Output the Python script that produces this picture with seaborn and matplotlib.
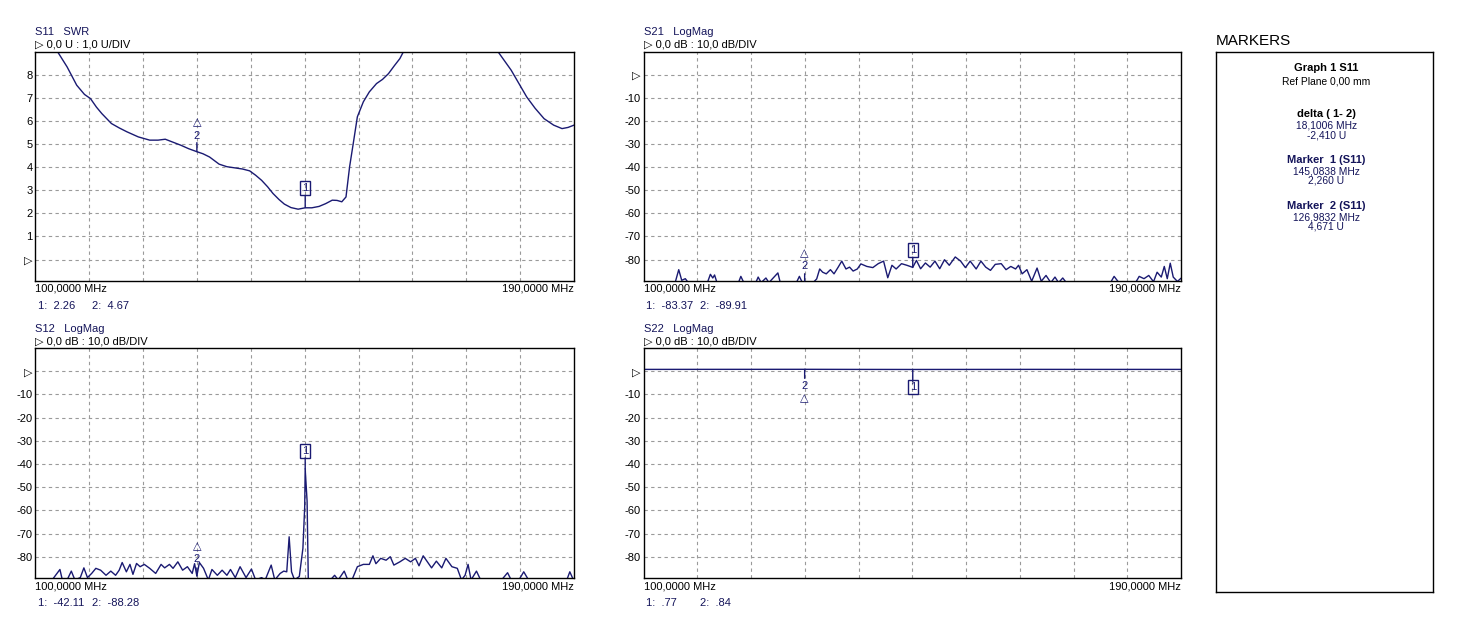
import matplotlib
matplotlib.use("Agg")
import matplotlib.pyplot as plt
import numpy as np
import pandas as pd
import seaborn as sns

# ---------------- data ----------------
s11_freq = [100, 101.5, 103.0, 103.7, 105.3, 106.9, 108.2, 109.2, 110.2, 111.1, 112.7, 114.0,
            115.3, 117.2, 119.1, 120.5, 121.7, 123.0, 124.3, 125.6, 126.98, 128.0, 129.1, 130.7,
            132.0, 133.3, 134.6, 135.8, 136.8, 137.8, 138.8, 139.7, 140.7, 141.6, 142.7, 143.9,
            145.08, 146.2, 147.4, 148.5, 149.6, 150.4, 151.2, 151.9, 152.5, 153.2, 153.8, 154.8,
            155.8, 157.0, 158.0, 159.0, 160.0, 160.9, 161.5, 163.5, 166.0, 169.0, 172.0, 175.0,
            177.3, 178.4, 179.5, 180.8, 182.1, 183.5, 185.0, 186.6, 188.0, 189.0, 190.0]
s11_swr = [10.5, 9.9, 9.3, 9.0, 8.34, 7.55, 7.15, 6.97, 6.6, 6.32, 5.89, 5.7,
           5.53, 5.31, 5.17, 5.17, 5.21, 5.08, 4.95, 4.80, 4.67, 4.58, 4.44, 4.13,
           4.02, 3.97, 3.92, 3.84, 3.65, 3.43, 3.15, 2.86, 2.60, 2.40, 2.25, 2.18,
           2.24, 2.24, 2.30, 2.42, 2.57, 2.56, 2.50, 2.71, 4.01, 5.17, 6.18, 6.83,
           7.26, 7.62, 7.8, 8.05, 8.4, 8.70, 9.0, 9.8, 10.5, 11.0, 10.8, 10.0,
           9.0, 8.6, 8.20, 7.62, 7.04, 6.55, 6.10, 5.82, 5.67, 5.72, 5.82]

s21_freq = [100.0, 105.3, 105.9, 106.4, 107.0, 107.5, 110.7, 111.2, 111.6, 111.9, 112.3, 115.9,
            116.3, 116.8, 118.8, 119.2, 119.7, 120.5, 121.0, 122.5, 122.9, 125.6, 126.1, 126.6,
            126.98, 128.4, 129.0, 129.5, 130.0, 130.6, 131.3, 131.9, 132.6, 133.2, 133.9, 134.5,
            135.1, 135.8, 136.4, 137.4, 138.4, 139.3, 140.2, 140.9, 141.6, 142.3, 143.2, 144.1,
            145.08, 145.7, 146.4, 147.2, 148.0, 148.8, 149.6, 150.4, 151.2, 152.2, 153.1, 153.9,
            154.7, 155.7, 156.5, 157.3, 158.1, 158.9, 159.9, 160.7, 161.5, 162.3, 162.8, 163.4,
            164.2, 165.0, 165.9, 166.6, 167.4, 168.2, 168.9, 169.5, 170.2, 170.8, 178.2, 178.8,
            179.6, 182.4, 183.0, 183.8, 184.6, 185.4, 186.0, 186.7, 187.2, 187.7, 188.2, 188.7,
            189.4, 190.0]
s21_db = [-90, -90, -84.4, -89, -88.3, -90, -90, -86.4, -88, -86.7, -90, -90,
          -87.3, -90, -90, -87.6, -90, -88, -90, -85.8, -90, -90, -87.3, -90,
          -90, -90, -88.4, -84.1, -85.5, -86.2, -84.4, -86.2, -83.3, -80.7, -84.1, -83.3,
          -85.0, -84.1, -81.9, -83.0, -83.5, -81.8, -80.7, -87.9, -82.5, -84.1, -81.8, -82.5,
          -83.4, -80.4, -84.0, -81.5, -83.3, -80.7, -84.0, -80.1, -82.5, -78.9, -80.7, -83.5,
          -80.7, -84.1, -80.7, -83.3, -84.7, -82.1, -81.8, -84.4, -83.0, -84.1, -82.5, -86.2,
          -84.4, -89.4, -83.7, -89.4, -86.9, -90, -87.6, -90, -88, -90, -90, -87.3,
          -90, -90, -87.3, -88.3, -86.9, -89.6, -85.5, -87.6, -83.0, -88.3, -81.6, -87.6,
          -89.5, -88.1]

s12_freq = [100.0, 102.8, 103.4, 104.1, 104.5, 105.3, 106.0, 106.6, 107.5, 108.1, 108.7, 109.4,
            110.1, 110.9, 111.8, 112.6, 113.4, 114.0, 114.5, 115.2, 115.8, 116.3, 116.9, 117.5,
            118.2, 119.1, 120.1, 121.0, 121.6, 122.4, 123.0, 123.8, 124.6, 125.4, 126.2, 126.6,
            126.98, 127.4, 128.1, 128.9, 129.5, 130.4, 131.2, 132.0, 132.6, 133.4, 134.2, 135.2,
            136.1, 136.8, 137.8, 138.4, 139.4, 140.0, 140.9, 141.5, 142.0, 142.4, 142.8, 143.3,
            144.1, 144.7, 145.0, 145.08, 145.4, 145.6, 149.3, 150.0, 150.6, 151.6, 152.2, 152.9,
            153.8, 154.8, 155.8, 156.4, 156.9, 157.7, 158.6, 159.3, 159.9, 160.9, 161.8, 162.7,
            163.5, 164.1, 164.8, 165.5, 166.2, 167.0, 167.9, 168.6, 169.6, 170.5, 171.2, 171.8,
            172.3, 172.8, 173.7, 174.4, 177.9, 178.9, 179.5, 180.8, 181.6, 182.4, 188.8, 189.3,
            189.9, 190.0]
s12_db = [-90, -90, -87.9, -85.5, -90, -90, -86.2, -90, -89.0, -84.8, -89.0, -87.2,
          -85.0, -85.8, -88.0, -86.2, -88.0, -85.8, -82.5, -86.5, -83.3, -87.6, -82.9, -84.3,
          -83.3, -85.0, -87.2, -83.3, -84.8, -83.3, -85.0, -82.2, -85.8, -84.3, -87.2, -83.0,
          -88.3, -82.5, -85.0, -90, -85.5, -88.0, -85.8, -88.0, -85.5, -89.0, -84.3, -89.0,
          -85.3, -90, -89.0, -90, -83.6, -90, -87.2, -86.2, -86.5, -71.4, -86.5, -90,
          -88.5, -76.4, -58.5, -42.11, -56.0, -90, -90, -88.0, -90, -86.2, -90, -90,
          -84.3, -83.3, -83.3, -79.6, -83.0, -80.7, -81.5, -80.0, -83.6, -82.2, -80.7, -82.2,
          -80.7, -83.9, -79.6, -82.2, -84.8, -81.9, -84.8, -80.7, -84.3, -85.0, -90, -88.0,
          -83.3, -90, -86.2, -90, -90, -86.9, -90, -90, -86.5, -90, -90, -86.5,
          -90, -90]

s22_freq = [100.0, 110.0, 120.0, 126.98, 135.0, 145.08, 155.0, 165.0, 175.0, 190.0]
s22_db = [0.80, 0.82, 0.83, 0.84, 0.80, 0.77, 0.79, 0.81, 0.80, 0.80]

panel_titles = ["S11   SWR", "S21   LogMag", "S12   LogMag", "S22   LogMag"]
panel_scales = ["\u25B7 0,0 U : 1,0 U/DIV", "\u25B7 0,0 dB : 10,0 dB/DIV",
                "\u25B7 0,0 dB : 10,0 dB/DIV", "\u25B7 0,0 dB : 10,0 dB/DIV"]
start_label = "100,0000 MHz"
stop_label = "190,0000 MHz"
readouts = [("1:  2.26", "2:  4.67"), ("1:  -83.37", "2:  -89.91"),
            ("1:  -42.11", "2:  -88.28"), ("1:  .77", "2:  .84")]
# marker (freq, value) per panel: marker 1, marker 2
markers = [((145.0838, 2.26), (126.9832, 4.671)),
           ((145.0838, -83.37), (126.9832, -89.91)),
           ((145.0838, -42.11), (126.9832, -88.28)),
           ((145.0838, 0.77), (126.9832, 0.84))]
swr_ticks = [0, 1, 2, 3, 4, 5, 6, 7, 8]
swr_ticklabels = ["\u25B7", "1", "2", "3", "4", "5", "6", "7", "8"]
db_ticks = [0, -10, -20, -30, -40, -50, -60, -70, -80]
db_ticklabels = ["\u25B7", "-10", "-20", "-30", "-40", "-50", "-60", "-70", "-80"]

marker_panel_title = "MARKERS"
marker_lines = [
    ("Graph 1 S11", "bold", "black"),
    ("Ref Plane 0,00 mm", "normal", "black"),
    ("delta ( 1- 2)", "bold", "black"),
    ("18,1006 MHz", "normal", "navy"),
    ("-2,410 U", "normal", "navy"),
    ("Marker  1 (S11)", "bold", "navy"),
    ("145,0838 MHz", "normal", "navy"),
    ("2,260 U", "normal", "navy"),
    ("Marker  2 (S11)", "bold", "navy"),
    ("126,9832 MHz", "normal", "navy"),
    ("4,671 U", "normal", "navy"),
]

# ---------------- style ----------------
sns.set_theme(style="white")
FAM = ["Liberation Sans", "DejaVu Sans"]
plt.rcParams["font.family"] = FAM
TRACE = "#1a1a72"
NAVY = "#14145a"
GRID = "#9a9a9a"

W, H = 1464, 620
fig = plt.figure(figsize=(W / 100, H / 100), dpi=100)
fig.patch.set_facecolor("white")


def px(x, y):
    return x / W, 1 - y / H


boxes = [(35.4, 51.7, 574.0, 281.0), (643.5, 51.7, 1181.0, 281.0),
         (35.4, 348.3, 574.0, 578.3), (643.5, 348.3, 1181.0, 578.3)]
series = [(s11_freq, s11_swr), (s21_freq, s21_db), (s12_freq, s12_db), (s22_freq, s22_db)]


def draw_marker(ax, f, v, num, kind, side, stub, off1, off2=None):
    ylo = ax.get_ylim()[0]
    v = max(v, ylo + 0.001 * (ax.get_ylim()[1] - ylo))
    ax.annotate("", xy=(f, v), xytext=(0, side * stub), textcoords="offset pixels",
                arrowprops=dict(arrowstyle="-", color=TRACE, lw=1.0, shrinkA=0, shrinkB=0),
                annotation_clip=False)
    if kind == "box":
        ax.annotate(num, xy=(f, v), xytext=(0, side * off1), textcoords="offset pixels",
                    ha="center", va="center", fontsize=8, color=TRACE,
                    bbox=dict(boxstyle="square,pad=0.18", fc="none", ec=TRACE, lw=1.0),
                    annotation_clip=False)
    else:
        ax.annotate(num, xy=(f, v), xytext=(0, side * off1), textcoords="offset pixels",
                    ha="center", va="center", fontsize=8, color=TRACE, annotation_clip=False)
        ax.annotate("\u25B3", xy=(f, v), xytext=(0, side * off2), textcoords="offset pixels",
                    ha="center", va="center", fontsize=8, color=TRACE,
                    family="DejaVu Sans", annotation_clip=False)


for i, (box, (fx, fy)) in enumerate(zip(boxes, series)):
    l, t, r, b = box
    ax = fig.add_axes([l / W, 1 - b / H, (r - l) / W, (b - t) / H])
    df = pd.DataFrame({"f": fx, "v": fy})
    sns.lineplot(data=df, x="f", y="v", ax=ax, color=TRACE, lw=1.0, estimator=None,
                 sort=False, legend=False)
    ax.set_xlim(100, 190)
    if i == 0:
        ax.set_ylim(-0.93, 9.0)
        ax.set_yticks(swr_ticks)
        ax.set_yticklabels(swr_ticklabels)
    else:
        ax.set_ylim(-89.3, 9.9)
        ax.set_yticks(db_ticks)
        ax.set_yticklabels(db_ticklabels)
    ax.set_xticks(np.arange(109, 190, 9))
    ax.set_xticklabels([])
    ax.set_xlabel("")
    ax.set_ylabel("")
    ax.tick_params(axis="both", length=0, pad=2, labelsize=8, labelcolor="black")
    for lab in ax.get_yticklabels():
        lab.set_family(FAM)
    ax.grid(True, color=GRID, lw=0.8, ls=(0, (3, 3)))
    for s in ax.spines.values():
        s.set_visible(True)
        s.set_color("black")
        s.set_linewidth(1.0)

    # header texts
    fig.text(*px(l, t - 19.5), panel_titles[i], fontsize=8, color=NAVY, ha="left", va="center")
    fig.text(*px(l, t - 7.0), panel_scales[i], fontsize=8, color="black", ha="left", va="center")
    fig.text(*px(l, b + 7.8), start_label, fontsize=8, color="black", ha="left", va="center")
    fig.text(*px(r, b + 7.8), stop_label, fontsize=8, color="black", ha="right", va="center")
    fig.text(*px(l + 3, b + 25), readouts[i][0], fontsize=8, color=NAVY, ha="left", va="center")
    fig.text(*px(l + 57, b + 25), readouts[i][1], fontsize=8, color=NAVY, ha="left", va="center")

    (m1f, m1v), (m2f, m2v) = markers[i]
    if i == 3:
        draw_marker(ax, m1f, m1v, "1", "box", -1, 12, 18)
        draw_marker(ax, m2f, m2v, "2", "delta", -1, 9, 17, 29)
    elif i == 2:
        draw_marker(ax, m1f, m1v, "1", "box", 1, 11, 18)
        draw_marker(ax, m2f, m2v, "2", "delta", 1, 8, 17, 30)
    elif i == 1:
        draw_marker(ax, m1f, m1v, "1", "box", 1, 10, 17)
        draw_marker(ax, m2f, m2v, "2", "delta", 1, 7, 15, 28)
    else:
        draw_marker(ax, m1f, m1v, "1", "box", 1, 12, 19)
        draw_marker(ax, m2f, m2v, "2", "delta", 1, 9, 16, 29)

# ---------------- markers panel ----------------
ml, mt, mr, mb = 1215.8, 51.7, 1433.0, 592.0
pax = fig.add_axes([ml / W, 1 - mb / H, (mr - ml) / W, (mb - mt) / H])
pax.set_xticks([])
pax.set_yticks([])
pax.set_facecolor("white")
for s in pax.spines.values():
    s.set_visible(True)
    s.set_color("black")
    s.set_linewidth(1.0)
fig.text(*px(1215.5, 41), marker_panel_title, fontsize=11, color="black", ha="left", va="center")
line_y = [68, 81, 114, 125.5, 135, 160, 171, 180.5, 206, 217, 226.5]
cx = (ml + mr) / 2 + 2
for (txt, wt, col), yy in zip(marker_lines, line_y):
    fs = 8 if wt == "bold" else 7.4
    fig.text(*px(cx, yy), txt, fontsize=fs, fontweight=wt,
             color=(NAVY if col == "navy" else "black"), ha="center", va="center")

fig.savefig("out.png", dpi=100, facecolor="white")
